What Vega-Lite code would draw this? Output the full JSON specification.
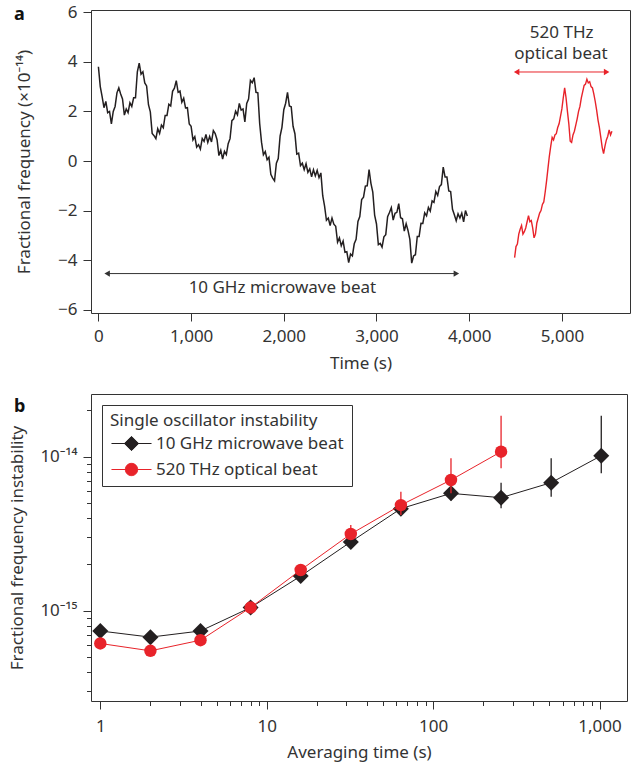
{
  "$schema": "https://vega.github.io/schema/vega-lite/v6.json",
  "padding": {"left": 8, "top": 2, "right": 2, "bottom": 2},
  "spacing": 21,
  "resolve": {"legend": {"color": "independent"}, "scale": {"color": "independent"}},
  "config": {
    "font": "Noto Sans",
    "view": {"stroke": "#333", "strokeWidth": 1},
    "axis": {"labelFont": "Noto Sans", "labelFontSize": 17, "labelColor": "#333", "titleFont": "Noto Sans", "titleFontSize": 17, "titleFontWeight": "normal", "titleColor": "#333", "domain": false, "grid": false, "tickColor": "#333", "tickSize": 8, "labelPadding": 4},
    "title": {"font": "Noto Sans", "fontSize": 18, "fontWeight": "bold", "color": "#111"}
  },
  "vconcat": [
    {
      "width": 539,
      "height": 303,
      "title": {"text": "a", "anchor": "start", "frame": "group", "dx": -77, "offset": -35, "baseline": "alphabetic"},
      "layer": [
        {
          "data": {"values": [
            {"t":0,"y":3.8},{"t":20,"y":3.0},{"t":40,"y":2.6},{"t":60,"y":2.15},{"t":80,"y":2.4},{"t":100,"y":1.95},{"t":120,"y":2.0},{"t":140,"y":1.5},{"t":160,"y":2.0},{"t":180,"y":2.2},
            {"t":200,"y":2.75},{"t":220,"y":2.95},{"t":240,"y":2.7},{"t":260,"y":2.5},{"t":280,"y":1.85},{"t":300,"y":2.1},{"t":320,"y":1.95},{"t":340,"y":2.35},{"t":360,"y":2.2},{"t":380,"y":2.55},
            {"t":400,"y":2.55},{"t":420,"y":3.6},{"t":440,"y":3.95},{"t":460,"y":3.5},{"t":480,"y":3.6},{"t":500,"y":3.15},{"t":520,"y":3.03},{"t":540,"y":2.27},{"t":560,"y":1.98},{"t":580,"y":1.11},
            {"t":600,"y":1.02},{"t":620,"y":0.9},{"t":640,"y":1.3},{"t":660,"y":1.11},{"t":680,"y":1.45},{"t":700,"y":1.34},{"t":720,"y":1.84},{"t":740,"y":1.84},{"t":760,"y":2.29},{"t":780,"y":2.22},
            {"t":800,"y":2.81},{"t":820,"y":2.94},{"t":840,"y":3.24},{"t":860,"y":2.77},{"t":880,"y":2.82},{"t":900,"y":2.37},{"t":920,"y":2.53},{"t":940,"y":2.14},{"t":960,"y":2.15},{"t":980,"y":1.49},
            {"t":1000,"y":1.4},{"t":1020,"y":0.85},{"t":1040,"y":0.98},{"t":1060,"y":0.56},{"t":1080,"y":0.66},{"t":1100,"y":0.48},{"t":1120,"y":0.91},{"t":1140,"y":0.79},{"t":1160,"y":1.07},{"t":1180,"y":0.75},
            {"t":1200,"y":0.99},{"t":1220,"y":0.77},{"t":1240,"y":1.23},{"t":1260,"y":1.11},{"t":1280,"y":0.86},{"t":1300,"y":0.22},{"t":1320,"y":0.43},{"t":1340,"y":0.08},{"t":1360,"y":0.39},{"t":1380,"y":0.26},
            {"t":1400,"y":0.7},{"t":1420,"y":0.9},{"t":1440,"y":1.63},{"t":1460,"y":1.7},{"t":1480,"y":2.01},{"t":1500,"y":1.86},{"t":1520,"y":2.32},{"t":1540,"y":2.05},{"t":1560,"y":2.1},{"t":1580,"y":1.58},
            {"t":1600,"y":2.32},{"t":1620,"y":2.5},{"t":1640,"y":3.25},{"t":1660,"y":3.16},{"t":1680,"y":3.36},{"t":1700,"y":2.77},{"t":1720,"y":2.75},{"t":1740,"y":1.5},{"t":1760,"y":0.75},{"t":1780,"y":0.25},
            {"t":1800,"y":0.38},{"t":1820,"y":0.05},{"t":1840,"y":0.15},{"t":1860,"y":-0.54},{"t":1880,"y":-0.69},{"t":1900,"y":-0.8},{"t":1920,"y":-0.09},{"t":1940,"y":0.1},{"t":1960,"y":1.0},{"t":1980,"y":1.36},
            {"t":2000,"y":2.07},{"t":2020,"y":2.33},{"t":2040,"y":2.77},{"t":2060,"y":2.22},{"t":2080,"y":2.19},{"t":2100,"y":1.4},{"t":2120,"y":1.1},{"t":2140,"y":0.28},{"t":2160,"y":0.32},{"t":2180,"y":-0.19},
            {"t":2200,"y":-0.09},{"t":2220,"y":-0.35},{"t":2240,"y":-0.11},{"t":2260,"y":-0.46},{"t":2280,"y":-0.32},{"t":2300,"y":-0.64},{"t":2320,"y":-0.35},{"t":2340,"y":-0.6},{"t":2360,"y":-0.38},{"t":2380,"y":-0.67},
            {"t":2400,"y":-0.48},{"t":2420,"y":-1.4},{"t":2440,"y":-1.82},{"t":2460,"y":-2.39},{"t":2480,"y":-2.3},{"t":2500,"y":-2.6},{"t":2520,"y":-2.3},{"t":2540,"y":-2.55},{"t":2560,"y":-2.63},{"t":2580,"y":-3.27},
            {"t":2600,"y":-3.1},{"t":2620,"y":-3.42},{"t":2640,"y":-3.23},{"t":2660,"y":-3.68},{"t":2680,"y":-3.66},{"t":2700,"y":-4.1},{"t":2720,"y":-3.75},{"t":2740,"y":-3.83},{"t":2760,"y":-3.34},{"t":2780,"y":-3.16},
            {"t":2800,"y":-2.44},{"t":2820,"y":-2.24},{"t":2840,"y":-1.55},{"t":2860,"y":-1.46},{"t":2880,"y":-1.01},{"t":2900,"y":-1.0},{"t":2920,"y":-0.35},{"t":2940,"y":-0.9},{"t":2960,"y":-1.25},{"t":2980,"y":-2.18},
            {"t":3000,"y":-2.54},{"t":3020,"y":-3.37},{"t":3040,"y":-3.32},{"t":3060,"y":-3.47},{"t":3080,"y":-3.06},{"t":3100,"y":-2.97},{"t":3120,"y":-2.25},{"t":3140,"y":-2.08},{"t":3160,"y":-1.88},{"t":3180,"y":-2.38},
            {"t":3200,"y":-2.11},{"t":3220,"y":-2.07},{"t":3240,"y":-1.72},{"t":3260,"y":-2.29},{"t":3280,"y":-2.33},{"t":3300,"y":-2.83},{"t":3320,"y":-2.53},{"t":3340,"y":-2.8},{"t":3360,"y":-3.16},{"t":3380,"y":-4.12},
            {"t":3400,"y":-3.83},{"t":3420,"y":-3.78},{"t":3440,"y":-3.04},{"t":3460,"y":-3.04},{"t":3480,"y":-2.51},{"t":3500,"y":-2.52},{"t":3520,"y":-2.09},{"t":3540,"y":-2.21},{"t":3560,"y":-1.87},{"t":3580,"y":-2.02},
            {"t":3600,"y":-1.61},{"t":3620,"y":-1.67},{"t":3640,"y":-1.23},{"t":3660,"y":-1.39},{"t":3680,"y":-1.03},{"t":3700,"y":-0.95},{"t":3720,"y":-0.25},{"t":3740,"y":-0.65},{"t":3760,"y":-0.65},{"t":3780,"y":-1.21},
            {"t":3800,"y":-1.23},{"t":3820,"y":-1.95},{"t":3840,"y":-2.17},{"t":3860,"y":-2.41},{"t":3880,"y":-2.13},{"t":3900,"y":-2.3},{"t":3920,"y":-2.1},{"t":3940,"y":-2.45},{"t":3960,"y":-2.0},{"t":3980,"y":-2.22}
          ]},
          "mark": {"type": "line", "color": "#231f20", "strokeWidth": 1.5},
          "encoding": {
            "x": {"field": "t", "type": "quantitative", "scale": {"domain": [-80, 5735], "nice": false, "zero": false},
                  "axis": {"title": "Time (s)", "values": [0, 1000, 2000, 3000, 4000, 5000], "format": ",d", "labelPadding": 7, "titlePadding": 11.5}},
            "y": {"field": "y", "type": "quantitative", "scale": {"domain": [-6.13, 6.09], "nice": false, "zero": false},
                  "axis": {"title": "Fractional frequency (×10⁻¹⁴)", "values": [-6, -4, -2, 0, 2, 4, 6], "format": "d", "labelPadding": 6, "titlePadding": 24}}
          }
        },
        {
          "data": {"values": [
            {"t":4490,"y":-3.9},{"t":4505,"y":-3.45},{"t":4520,"y":-3.35},{"t":4535,"y":-2.95},{"t":4550,"y":-2.75},{"t":4565,"y":-2.6},{"t":4580,"y":-2.95},{"t":4595,"y":-2.85},{"t":4610,"y":-2.7},{"t":4625,"y":-2.45},
            {"t":4640,"y":-2.2},{"t":4655,"y":-2.45},{"t":4670,"y":-2.4},{"t":4685,"y":-2.7},{"t":4700,"y":-3.1},{"t":4715,"y":-2.95},{"t":4730,"y":-2.5},{"t":4745,"y":-2.3},{"t":4760,"y":-2.1},{"t":4775,"y":-2.0},
            {"t":4790,"y":-1.75},{"t":4805,"y":-1.65},{"t":4820,"y":-1.25},{"t":4835,"y":-0.8},{"t":4850,"y":-0.3},{"t":4865,"y":0.2},{"t":4880,"y":0.6},{"t":4895,"y":0.95},{"t":4910,"y":0.85},{"t":4925,"y":1.05},
            {"t":4940,"y":1.1},{"t":4955,"y":1.35},{"t":4970,"y":1.5},{"t":4985,"y":1.8},{"t":5000,"y":2.1},{"t":5015,"y":2.55},{"t":5030,"y":2.95},{"t":5045,"y":2.55},{"t":5060,"y":2.0},{"t":5075,"y":1.5},
            {"t":5090,"y":0.8},{"t":5105,"y":0.75},{"t":5120,"y":1.05},{"t":5135,"y":1.2},{"t":5150,"y":1.45},{"t":5165,"y":1.7},{"t":5180,"y":2.0},{"t":5195,"y":2.2},{"t":5210,"y":2.55},{"t":5225,"y":2.8},
            {"t":5240,"y":3.05},{"t":5255,"y":3.1},{"t":5270,"y":3.3},{"t":5285,"y":3.15},{"t":5300,"y":3.2},{"t":5315,"y":3.0},{"t":5330,"y":2.95},{"t":5345,"y":2.7},{"t":5360,"y":2.4},{"t":5375,"y":2.05},
            {"t":5390,"y":1.65},{"t":5405,"y":1.35},{"t":5420,"y":0.95},{"t":5435,"y":0.55},{"t":5450,"y":0.3},{"t":5465,"y":0.6},{"t":5480,"y":0.85},{"t":5495,"y":1.0},{"t":5510,"y":1.25},{"t":5525,"y":1.05},{"t":5540,"y":1.2}
          ]},
          "mark": {"type": "line", "color": "#e8232a", "strokeWidth": 1.4},
          "encoding": {
            "x": {"field": "t", "type": "quantitative"},
            "y": {"field": "y", "type": "quantitative"}
          }
        },
        {
          "data": {"values": [{"x1": 94, "x2": 3862, "y": -4.54}]},
          "mark": {"type": "rule", "color": "#333", "strokeWidth": 1},
          "encoding": {"x": {"field": "x1", "type": "quantitative"}, "x2": {"field": "x2"}, "y": {"field": "y", "type": "quantitative"}}
        },
        {
          "data": {"values": [{"x1": 4512, "x2": 5483, "y": 3.59}]},
          "mark": {"type": "rule", "color": "#e8232a", "strokeWidth": 1},
          "encoding": {"x": {"field": "x1", "type": "quantitative"}, "x2": {"field": "x2"}, "y": {"field": "y", "type": "quantitative"}}
        },
        {
          "data": {"values": [{"t": 94, "y": -4.54, "d": "l"}, {"t": 3862, "y": -4.54, "d": "r"}]},
          "mark": {"type": "point", "filled": true, "color": "#333", "size": 40, "opacity": 1},
          "encoding": {"x": {"field": "t", "type": "quantitative"}, "y": {"field": "y", "type": "quantitative"},
                       "shape": {"field": "d", "type": "nominal", "scale": {"domain": ["l", "r"], "range": ["triangle-left", "triangle-right"]}, "legend": null}}
        },
        {
          "data": {"values": [{"t": 4512, "y": 3.59, "d": "l"}, {"t": 5483, "y": 3.59, "d": "r"}]},
          "mark": {"type": "point", "filled": true, "color": "#e8232a", "size": 40, "opacity": 1},
          "encoding": {"x": {"field": "t", "type": "quantitative"}, "y": {"field": "y", "type": "quantitative"},
                       "shape": {"field": "d", "type": "nominal", "scale": {"domain": ["l", "r"], "range": ["triangle-left", "triangle-right"]}, "legend": null}}
        },
        {
          "data": {"values": [
            {"t": 1985, "y": -5.13, "label": "10 GHz microwave beat"},
            {"t": 4998, "y": 5.18, "label": "520 THz"},
            {"t": 4990, "y": 4.33, "label": "optical beat"}
          ]},
          "mark": {"type": "text", "font": "Noto Sans", "fontSize": 17, "color": "#333", "baseline": "middle", "align": "center"},
          "encoding": {"x": {"field": "t", "type": "quantitative"}, "y": {"field": "y", "type": "quantitative"}, "text": {"field": "label"}}
        }
      ]
    },
    {
      "width": 536,
      "height": 307,
      "title": {"text": "b", "anchor": "start", "frame": "group", "dx": -77, "offset": -35.5, "baseline": "alphabetic"},
      "data": {"values": [
        {"tau": 1, "s": "10 GHz microwave beat", "v": 7.4e-16, "lo": 7.4e-16, "hi": 7.4e-16},
        {"tau": 2, "s": "10 GHz microwave beat", "v": 6.75e-16, "lo": 6.75e-16, "hi": 6.75e-16},
        {"tau": 4, "s": "10 GHz microwave beat", "v": 7.4e-16, "lo": 7.4e-16, "hi": 7.4e-16},
        {"tau": 8, "s": "10 GHz microwave beat", "v": 1.05e-15, "lo": 1.05e-15, "hi": 1.05e-15},
        {"tau": 16, "s": "10 GHz microwave beat", "v": 1.68e-15, "lo": 1.6e-15, "hi": 1.76e-15},
        {"tau": 32, "s": "10 GHz microwave beat", "v": 2.8e-15, "lo": 2.65e-15, "hi": 2.95e-15},
        {"tau": 64, "s": "10 GHz microwave beat", "v": 4.6e-15, "lo": 4.2e-15, "hi": 5.0e-15},
        {"tau": 128, "s": "10 GHz microwave beat", "v": 5.78e-15, "lo": 5.2e-15, "hi": 6.5e-15},
        {"tau": 256, "s": "10 GHz microwave beat", "v": 5.42e-15, "lo": 4.63e-15, "hi": 6.78e-15},
        {"tau": 512, "s": "10 GHz microwave beat", "v": 6.78e-15, "lo": 5.5e-15, "hi": 9.77e-15},
        {"tau": 1024, "s": "10 GHz microwave beat", "v": 1.015e-14, "lo": 7.8e-15, "hi": 1.84e-14},
        {"tau": 1, "s": "520 THz optical beat", "v": 6.14e-16, "lo": 6.14e-16, "hi": 6.14e-16},
        {"tau": 2, "s": "520 THz optical beat", "v": 5.5e-16, "lo": 5.5e-16, "hi": 5.5e-16},
        {"tau": 4, "s": "520 THz optical beat", "v": 6.45e-16, "lo": 6.45e-16, "hi": 6.45e-16},
        {"tau": 8, "s": "520 THz optical beat", "v": 1.05e-15, "lo": 1.05e-15, "hi": 1.05e-15},
        {"tau": 16, "s": "520 THz optical beat", "v": 1.84e-15, "lo": 1.7e-15, "hi": 1.98e-15},
        {"tau": 32, "s": "520 THz optical beat", "v": 3.15e-15, "lo": 2.9e-15, "hi": 3.6e-15},
        {"tau": 64, "s": "520 THz optical beat", "v": 4.85e-15, "lo": 4.18e-15, "hi": 5.93e-15},
        {"tau": 128, "s": "520 THz optical beat", "v": 7.06e-15, "lo": 5.78e-15, "hi": 9.77e-15},
        {"tau": 256, "s": "520 THz optical beat", "v": 1.077e-14, "lo": 8.4e-15, "hi": 1.84e-14}
      ]},
      "encoding": {
        "x": {"field": "tau", "type": "quantitative",
              "scale": {"type": "log", "domain": [0.879, 1462], "nice": false},
              "axis": {"title": "Averaging time (s)", "values": [1,2,3,4,5,6,7,8,9,10,20,30,40,50,60,70,80,90,100,200,300,400,500,600,700,800,900,1000],
                       "labelExpr": "indexof([1,10,100,1000], datum.value) >= 0 ? format(datum.value, ',') : ''",
                       "labelOverlap": false, "labelPadding": 9.5, "titlePadding": 9.5,
                       "tickSize": {"condition": {"test": "indexof([1,10,100,1000], datum.value) >= 0", "value": 8}, "value": 4.5}}},
        "y": {"field": "v", "type": "quantitative",
              "scale": {"type": "log", "domain": [2.6e-16, 2.55e-14], "nice": false},
              "axis": {"title": "Fractional frequency instability",
                       "values": [3e-16,4e-16,5e-16,6e-16,7e-16,8e-16,9e-16,1e-15,2e-15,3e-15,4e-15,5e-15,6e-15,7e-15,8e-15,9e-15,1e-14,2e-14],
                       "labelExpr": "datum.value == 1e-15 ? '10⁻¹⁵' : (datum.value == 1e-14 ? '10⁻¹⁴' : '')",
                       "labelOverlap": false, "labelPadding": 6, "titlePadding": 13,
                       "tickSize": {"condition": {"test": "datum.value == 1e-15 || datum.value == 1e-14", "value": 8}, "value": 4.5}}}
      },
      "layer": [
        {
          "transform": [{"filter": "indexof(datum.s, 'GHz') >= 0"}],
          "mark": {"type": "line", "strokeWidth": 1},
          "encoding": {
            "color": {"field": "s", "type": "nominal",
                      "scale": {"domain": ["10 GHz microwave beat", "520 THz optical beat"], "range": ["#231f20", "#e8232a"]},
                      "legend": {"title": "Single oscillator instability      ", "orient": "top-left", "offset": 11,
                                 "strokeColor": "#333", "padding": 8, "titleFont": "Noto Sans", "titleFontSize": 17, "titleFontWeight": "normal", "titleColor": "#333",
                                 "labelFont": "Noto Sans", "labelFontSize": 17, "labelColor": "#333", "labelLimit": 400, "titleLimit": 400,
                                 "symbolSize": 225, "symbolOffset": 13, "labelOffset": 16, "rowPadding": 7, "titlePadding": 5,
                                 "encode": {"symbols": {"update": {
                                   "shape": {"signal": "indexof(datum.value, 'GHz') >= 0 ? 'M-2.67,0H2.67M0,-0.95L0.95,0L0,0.95L-0.95,0Z' : 'M-2.67,0H2.67M0.82,0A0.82,0.82,0,1,1,-0.82,0A0.82,0.82,0,1,1,0.82,0Z'"},
                                   "fill": {"signal": "indexof(datum.value, 'GHz') >= 0 ? '#231f20' : '#e8232a'"},
                                   "stroke": {"signal": "indexof(datum.value, 'GHz') >= 0 ? '#231f20' : '#e8232a'"},
                                   "strokeWidth": {"value": 1},
                                   "size": {"value": 225},
                                   "opacity": {"value": 1}
                                 }}}}}
          }
        },
        {
          "transform": [{"filter": "indexof(datum.s, 'GHz') >= 0"}],
          "mark": {"type": "rule", "color": "#231f20", "strokeWidth": 1.3},
          "encoding": {"y": {"field": "lo", "type": "quantitative"}, "y2": {"field": "hi"}}
        },
        {
          "transform": [{"filter": "indexof(datum.s, 'GHz') >= 0"}],
          "mark": {"type": "point", "shape": "diamond", "filled": true, "size": 256, "opacity": 1},
          "encoding": {"color": {"field": "s", "type": "nominal"}}
        },
        {
          "transform": [{"filter": "indexof(datum.s, 'THz') >= 0"}],
          "mark": {"type": "line", "strokeWidth": 1},
          "encoding": {"color": {"field": "s", "type": "nominal"}}
        },
        {
          "transform": [{"filter": "indexof(datum.s, 'THz') >= 0"}],
          "mark": {"type": "rule", "color": "#e8232a", "strokeWidth": 1.3},
          "encoding": {"y": {"field": "lo", "type": "quantitative"}, "y2": {"field": "hi"}}
        },
        {
          "transform": [{"filter": "indexof(datum.s, 'THz') >= 0"}],
          "mark": {"type": "point", "shape": "circle", "filled": true, "size": 155, "opacity": 1},
          "encoding": {"color": {"field": "s", "type": "nominal"}}
        }
      ]
    }
  ]
}
